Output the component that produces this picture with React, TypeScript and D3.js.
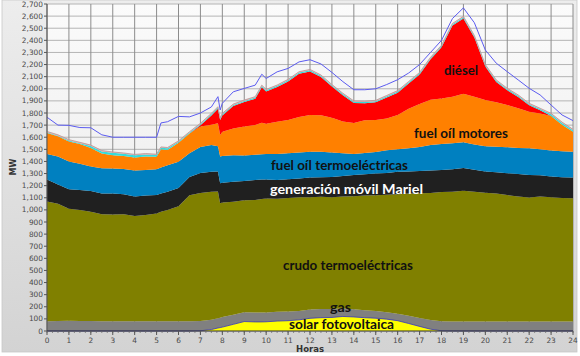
import React from 'react';
import * as d3 from 'd3';

const hours = [0,0.5,1,1.5,2,2.5,3,3.5,4,4.5,5,5.2,5.5,6,6.5,7,7.5,7.8,7.9,8,8.5,9,9.5,9.8,10,10.5,11,11.5,12,12.5,13,13.5,14,14.5,15,15.5,16,16.5,17,17.5,18,18.5,19,19.5,20,20.5,21,21.5,22,22.5,23,23.5,24];

const solar = [0,0,0,0,0,0,0,0,0,0,0,0,0,0,0, 2,12,25,28,32,55,78,75,75,76,82,85,92,105,110,112,120,116,110,106,98,85,62,38,15,2, 0,0,0,0,0,0,0,0,0,0,0,0];
const gas = [80,82,84,83,82,80,80,80,80,80,80,80,80,80,80, 80,80,80,82,83,80,77,77,77,76,76,75,73,73,72,70,65,64,62,59,57,57,63,70,75,78, 79,79,79,79,79,79,79,79,79,79,79,79];
const crudo = [990,968,926,917,903,885,882,885,870,878,890,905,920,950,1040, 1058,1058,1047,945,945,933,925,930,938,943,934,938,940,927,926,923,925,932,946,955,970,988,1010,1030,1050,1068, 1071,1079,1071,1063,1056,1043,1031,1023,1031,1026,1019,1017];
const mariel = [180,160,160,165,170,170,173,165,160,160,152,150,150,150,152, 165,165,166,165,165,165,158,165,160,155,155,154,155,163,162,167,170,176,177,180,180,185,183,184,185,182, 185,187,182,176,175,180,186,186,175,170,172,172];
const fuelTermo = [212,230,230,215,203,208,207,208,215,212,213,215,218,218,196, 215,220,207,220,220,219,212,208,210,212,215,215,213,212,210,201,188,174,175,178,187,185,190,198,210,215, 215,213,208,207,212,216,216,220,215,215,215,213];
const fuelMotores = [173,168,165,165,152,122,110,107,107,110,103,150,127,157,162, 168,167,190,178,200,220,238,245,260,250,266,275,295,304,302,287,262,256,270,264,263,284,327,355,375,375, 385,400,395,382,366,348,327,303,295,285,218,164];
const diesel = [0,0,0,0,0,0,0,0,0,0,0,0,0,0,0, 10,78,120,125,135,185,202,218,293,266,286,319,356,359,315,258,216,165,141,146,173,184,208,243,333,423, 588,623,488,276,168,121,93,52,27,0,0,0];
const cyan = [6,5,8,6,18,18,19,18,19,18,15,13,13,8,8, 10,10,10,10,10,10,10,10,10,10,10,10,10,10,10,10,10,10,10,10,10,10,10,10,10,10, 10,10,10,10,10,10,10,10,10,15,15,13];
const pink = [7,7,7,7,7,7,7,7,7,7,7,7,7,7,7, 7,7,7,7,7,7,7,7,7,7,7,7,7,7,7,7,7,7,7,7,7,7,7,7,7,7, 7,7,7,7,7,7,7,7,7,7,7,7];
const demand = [1765,1700,1698,1680,1678,1620,1600,1600,1600,1600,1600,1718,1728,1772,1768, 1800,1850,1935,1825,1880,1975,2003,2030,2120,2085,2140,2168,2222,2240,2205,2135,2059,1992,1992,2000,2035,2075,2130,2200,2300,2400, 2580,2668,2545,2320,2211,2141,2073,2004,1949,1866,1784,1737];

const yTicks = d3.range(0, 2701, 100);
const xTicks = d3.range(0, 25, 1);

const keys = ['solar', 'gas', 'crudo', 'mariel', 'fuelTermo', 'fuelMotores', 'diesel', 'cyan', 'pink'];
const colors: Record<string, string> = {
  solar: '#ffff00',
  gas: '#808080',
  crudo: '#808000',
  mariel: '#202020',
  fuelTermo: '#0080c0',
  fuelMotores: '#ff8000',
  diesel: '#ff0000',
  cyan: '#33dddd',
  pink: '#e8aaaa',
};

const labels = [
  { text: 'diésel', x: 444, y: 75, w: 34, fill: '#111' },
  { text: 'fuel oíl motores', x: 414, y: 138, w: 94, fill: '#111' },
  { text: 'fuel oíl termoeléctricas', x: 271, y: 170, w: 137, fill: '#111' },
  { text: 'generación móvil Mariel', x: 270, y: 194, w: 153, fill: '#ffffff' },
  { text: 'crudo termoeléctricas', x: 283, y: 270, w: 130, fill: '#111' },
  { text: 'gas', x: 330, y: 312, w: 21, fill: '#111' },
  { text: 'solar fotovoltaica', x: 289, y: 329, w: 105, fill: '#111' },
];

export default function App() {
  const W = 580, H = 356;
  const x = d3.scaleLinear().domain([0, 24]).range([47, 573]);
  const y = d3.scaleLinear().domain([0, 2700]).range([331, 4]);
  const series: Record<string, number[]> = { solar, gas, crudo, mariel, fuelTermo, fuelMotores, diesel, cyan, pink };
  const table = hours.map((h, i) => {
    const row: any = { h };
    keys.forEach(k => { row[k] = series[k][i]; });
    return row;
  });
  const stacked = d3.stack<any>().keys(keys)(table);
  const area = d3.area<any>().x(d => x(d.data.h)).y0(d => y(d[0])).y1(d => y(d[1]));
  const topLine = d3.line<any>().x(d => x(d.data.h)).y(d => y(d[1]));
  const demandLine = d3.line<number>().x((d, i) => x(hours[i])).y(d => y(d));
  const minor = d3.range(0, 24.001, 0.25);

  return (
    <svg width={W} height={H} style={{ position: 'absolute', left: 0, top: 0 }} xmlns="http://www.w3.org/2000/svg">
      <defs>
        <linearGradient id="frame" x1="0" y1="0" x2="0" y2="1">
          <stop offset="0" stopColor="#ededed" />
          <stop offset="1" stopColor="#d3d3d3" />
        </linearGradient>
        <linearGradient id="plotbg" x1="0" y1="0" x2="0" y2="1">
          <stop offset="0" stopColor="#fbfbfb" />
          <stop offset="1" stopColor="#e6e6e6" />
        </linearGradient>
      </defs>
      <rect x={0} y={0} width={W} height={H} fill="#ffffff" />
      <rect x={2} y={0} width={575} height={352} fill="url(#frame)" stroke="#c8c8c8" strokeWidth={0.8} />
      <rect x={x(0)} y={y(2700)} width={x(24) - x(0)} height={y(0) - y(2700)} fill="url(#plotbg)" />
      {yTicks.map(t => (
        <line key={'hg' + t} x1={x(0)} x2={x(24)} y1={y(t)} y2={y(t)} stroke="#b4b4b4" strokeWidth={1} />
      ))}
      {xTicks.map(t => (
        <line key={'vg' + t} x1={x(t)} x2={x(t)} y1={y(0)} y2={y(2700)} stroke="#8c8c8c" strokeWidth={1} />
      ))}
      {stacked.map(s => (
        <path key={s.key} d={area(s) || ''} fill={colors[s.key]} />
      ))}
      <path d={topLine(stacked[0]) || ''} fill="none" stroke="#3a3aa8" strokeWidth={0.8} />
      <path d={topLine(stacked[8]) || ''} fill="none" stroke="#b89898" strokeWidth={0.8} />
      <path d={demandLine(demand) || ''} fill="none" stroke="#5b5bf0" strokeWidth={1} />
      <line x1={x(0)} x2={x(0)} y1={y(0)} y2={y(2700)} stroke="#555" strokeWidth={1} />
      <line x1={x(0)} x2={x(24)} y1={y(0)} y2={y(0)} stroke="#333" strokeWidth={1} />
      {yTicks.map(t => (
        <g key={'yt' + t}>
          <line x1={x(0) - 3} x2={x(0)} y1={y(t)} y2={y(t)} stroke="#555" />
          <text x={x(0) - 4} y={y(t)} dy="0.34em" textAnchor="end" fontFamily="DejaVu Sans, sans-serif" fontSize={7.4} fill="#4a4a4a">{d3.format(',')(t)}</text>
        </g>
      ))}
      {minor.map(t => (
        <line key={'mt' + t} x1={x(t)} x2={x(t)} y1={y(0)} y2={y(0) + 2} stroke="#666" strokeWidth={0.7} />
      ))}
      {xTicks.map(t => (
        <g key={'xt' + t}>
          <line x1={x(t)} x2={x(t)} y1={y(0)} y2={y(0) + 4} stroke="#555" />
          <text x={x(t)} y={343} textAnchor="middle" fontFamily="DejaVu Sans, sans-serif" fontSize={7.4} fill="#4a4a4a">{t}</text>
        </g>
      ))}
      <text x={310} y={352} textAnchor="middle" fontFamily="DejaVu Sans, sans-serif" fontWeight="bold" fontSize={8.5} fill="#333">Horas</text>
      <text transform="translate(16,167) rotate(-90)" textAnchor="middle" fontFamily="DejaVu Sans, sans-serif" fontWeight="bold" fontSize={8} fill="#333">MW</text>
      {labels.map(l => (
        <text key={l.text} x={l.x} y={l.y} fontFamily="Lato, 'Open Sans', sans-serif" fontWeight="bold" fontSize={13} fill={l.fill} textLength={l.w} lengthAdjust="spacingAndGlyphs">{l.text}</text>
      ))}
    </svg>
  );
}
